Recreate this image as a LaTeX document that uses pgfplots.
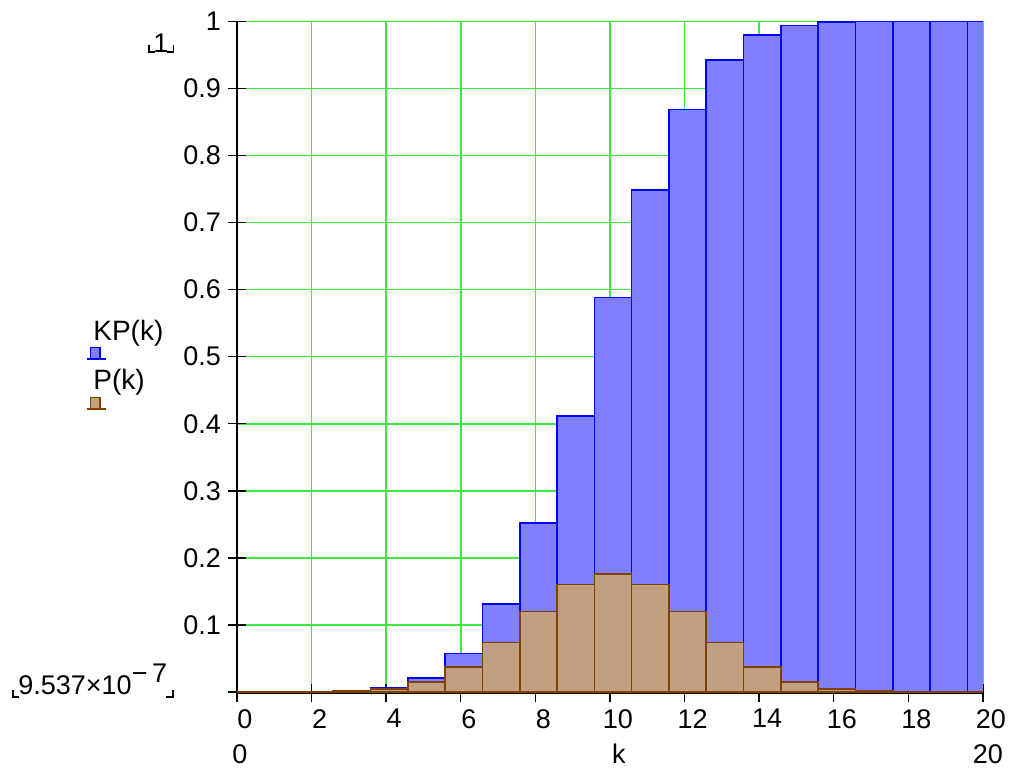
\documentclass[border=0pt]{standalone}
\usepackage{fontspec}
\setmainfont{Liberation Sans}
\usepackage{pgfplots}
\pgfplotsset{compat=1.18}
\definecolor{kpfill}{RGB}{128,128,255}
\definecolor{kpline}{RGB}{0,0,255}
\definecolor{pfill}{RGB}{192,160,128}
\definecolor{pline}{RGB}{128,64,0}
\definecolor{gridgreen}{RGB}{60,235,60}
\newcommand\lf{\fontsize{13.5}{16}\selectfont}
\newcommand\legfont{\fontsize{14}{16}\selectfont}
\begin{document}
\begin{tikzpicture}[font=\lf]
\begin{axis}[at={(0pt,-0.67pt)}, anchor=south west, scale only axis,
  set layers,
  width=373pt, height=335.97pt,
  xmin=0, xmax=20, ymin=-0.002, ymax=1,
  axis x line=bottom, axis y line=left,
  axis line style={-, black, line width=0.7pt},
  xtick={0,2,4,6,8,10,12,14,16,18,20},
  ytick={0,0.1,0.2,0.3,0.4,0.5,0.6,0.7,0.8,0.9,1},
  yticklabels={,0.1,0.2,0.3,0.4,0.5,0.6,0.7,0.8,0.9,1},
  tick align=center, major tick length=9pt,
  tick style={black, line width=0.7pt},
  grid=major,
  grid style={draw=gridgreen, color=gridgreen, line width=0.8pt},
  major grid style={draw=gridgreen, color=gridgreen, line width=0.8pt},
  ticklabel style={font=\lf},
  xticklabel style={xshift=4pt},
  /pgf/number format/assume math mode=true,
]
\addplot[ybar, bar width=1, bar shift=1.5pt, draw=kpline, fill=kpfill, line width=0.8pt] coordinates {
(0,0.00000095) (1,0.0000200) (2,0.0002012) (3,0.0012884) (4,0.0059090)
(5,0.0206947) (6,0.0576591) (7,0.1315880) (8,0.2517223) (9,0.4119015)
(10,0.5880985) (11,0.7482777) (12,0.8684120) (13,0.9423409) (14,0.9793053)
(15,0.9940910) (16,0.9987116) (17,0.9997988) (18,0.9999800) (19,0.9999990) (20,1.0)};
\addplot[ybar, bar width=1, bar shift=1.5pt, draw=pline, fill=pfill, line width=0.8pt] coordinates {
(0,0.00000095) (1,0.0000191) (2,0.0001812) (3,0.0010872) (4,0.0046206)
(5,0.0147858) (6,0.0369644) (7,0.0739288) (8,0.1201344) (9,0.1601791)
(10,0.1761971) (11,0.1601791) (12,0.1201344) (13,0.0739288) (14,0.0369644)
(15,0.0147858) (16,0.0046206) (17,0.0010872) (18,0.0001812) (19,0.0000191) (20,0.00000095)};
\end{axis}
% range labels
\node[inner sep=0pt] at (-38pt,324.5pt) {1};
\draw[line width=0.6pt] (-44pt,323.5pt) -- (-44pt,320pt) -- (-41pt,320pt);
\draw[line width=0.6pt] (-35.2pt,320pt) -- (-31.85pt,320pt) -- (-31.85pt,323.5pt);
\node[inner sep=0pt, anchor=base west] at (-109.5pt,-1.5pt) {9.537×10\raisebox{6pt}{−\,7}};
\draw[line width=0.6pt] (-112pt,1pt) -- (-112pt,-2.5pt) -- (-109pt,-2.5pt);
\draw[line width=0.6pt] (-35.5pt,-2.5pt) -- (-32pt,-2.5pt) -- (-32pt,1pt);
\node[inner sep=0pt, anchor=base] at (1.5pt,-35.8pt) {0};
\node[inner sep=0pt, anchor=base] at (375.5pt,-35.8pt) {20};
\node[inner sep=0pt, anchor=base] at (191pt,-35.8pt) {k};
% legend
\node[inner sep=0pt, anchor=west, font=\legfont] at (-72pt,179.5pt) {KP(k)};
\draw[draw=kpline, fill=kpfill, line width=0.6pt] (-73.15pt,166.35pt) rectangle (-68.5pt,172.35pt);
\draw[draw=kpline, line width=0.8pt] (-75.15pt,166.35pt) -- (-65.65pt,166.35pt);
\node[inner sep=0pt, anchor=west, font=\legfont] at (-72pt,155pt) {P(k)};
\draw[draw=pline, fill=pfill, line width=0.6pt] (-73.15pt,141.35pt) rectangle (-68.5pt,147.35pt);
\draw[draw=pline, line width=0.8pt] (-75.15pt,141.35pt) -- (-65.65pt,141.35pt);
\pgfresetboundingbox
\path[use as bounding box] (-118.5pt,-38.5pt) rectangle (386pt,346pt);
\end{tikzpicture}
\end{document}
